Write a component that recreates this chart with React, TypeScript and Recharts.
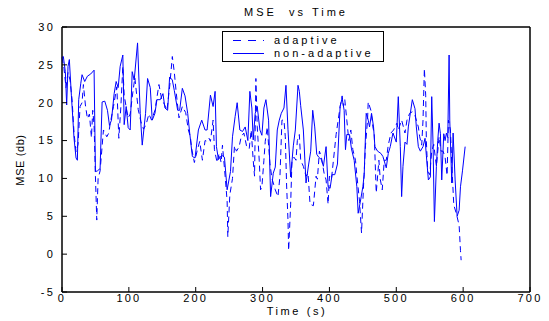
import { LineChart, Line, XAxis, YAxis, ReferenceLine } from "recharts";

// values
const adaptiveTime = [
  0, 3, 6, 9, 12, 15, 18, 21, 24, 27, 30, 32, 35, 38, 41, 44, 46, 48, 50, 52, 54, 57,
  62, 67, 70, 72, 77, 82, 85, 88, 91, 93, 96, 99, 102, 106, 109, 114, 118, 122, 126,
  130, 134, 139, 145, 149, 153, 157, 161, 165, 168, 171, 175, 180, 185, 189, 192, 194,
  198, 202, 206, 210, 214, 217, 220, 222, 226, 228, 232, 235, 238, 240, 244, 247, 248,
  251, 255, 258, 261, 265, 268, 272, 276, 280, 283, 286, 288, 290, 292, 295, 297, 299,
  302, 304, 307, 311, 314, 319, 323, 326, 329, 332, 334, 336, 338, 339, 342, 344, 347,
  350, 352, 355, 357, 361, 365, 368, 371, 376, 380, 382, 385, 388, 392, 395, 398, 400,
  403, 406, 410, 416, 419, 421, 423, 426, 429, 432, 435, 439, 441, 445, 448, 451, 454,
  457, 458, 462, 465, 467, 470, 474, 476, 479, 482, 485, 488, 492, 496, 501, 503, 508,
  513, 516, 520, 524, 528, 533, 535, 538, 540, 542, 544, 545, 547, 550, 553, 556, 560,
  564, 567, 570, 573, 576, 578, 581, 583, 586, 590, 594, 596, 597,
];
const adaptiveMse = [
  26.0, 24.5, 22.0, 24.0, 23.0, 20.5, 16.0, 13.5, 14.5, 19.5, 20.0, 22.4, 19.7, 17.9,
  18.5, 15.4, 19.0, 17.0, 10.3, 4.5, 10.0, 11.0, 16.4, 15.5, 16.0, 17.2, 19.5, 22.1,
  15.3, 19.4, 24.8, 21.0, 19.4, 18.0, 18.5, 21.4, 23.3, 19.1, 17.5, 16.5, 17.2, 18.5,
  17.7, 19.0, 22.4, 20.5, 19.8, 19.0, 22.1, 26.1, 24.0, 21.2, 18.0, 19.5, 18.7, 16.4,
  15.5, 13.9, 12.1, 13.6, 14.9, 12.4, 15.0, 14.9, 15.3, 14.9, 17.7, 13.8, 12.1, 13.3,
  12.1, 14.4, 10.3, 7.0, 2.3, 7.8, 10.0, 14.3, 13.6, 14.2, 15.5, 16.0, 14.3, 13.9, 16.4,
  12.4, 10.3, 23.2, 16.9, 12.4, 8.5, 8.9, 12.4, 14.9, 16.8, 12.0, 10.0, 8.5, 7.6, 10.3,
  17.7, 17.7, 15.5, 9.0, 4.5, 0.5, 6.6, 12.4, 12.8, 12.4, 15.0, 15.8, 12.4, 11.6, 10.3,
  10.7, 6.6, 6.4, 10.3, 9.9, 13.6, 12.8, 10.7, 9.8, 6.6, 10.3, 9.9, 12.4, 15.8, 19.5,
  20.9, 19.5, 20.4, 17.7, 15.0, 16.4, 13.8, 12.4, 10.4, 7.0, 2.8, 9.0, 14.4, 17.7, 20.1,
  19.0, 16.8, 15.9, 8.1, 12.4, 9.9, 8.5, 12.4, 12.4, 14.4, 16.0, 16.4, 17.3, 16.4, 17.7,
  16.0, 17.7, 18.6, 18.8, 18.3, 16.8, 15.5, 14.4, 17.7, 24.5, 21.0, 14.9, 10.9, 10.5,
  13.6, 14.5, 11.6, 15.5, 13.6, 13.6, 12.8, 10.4, 17.7, 16.4, 11.9, 6.5, 5.3, 3.8, 0.5,
  -0.8,
];

const nonAdaptiveTime = [
  0, 2, 5, 7, 9, 11, 14, 18, 21, 23, 25, 28, 30, 34, 38, 43, 48, 50, 53, 57, 60, 64, 68,
  71, 74, 78, 81, 84, 87, 91, 93, 96, 99, 102, 105, 108, 113, 117, 120, 125, 128, 132,
  135, 139, 142, 147, 151, 154, 158, 161, 165, 168, 173, 176, 180, 184, 188, 191, 195,
  199, 204, 209, 214, 217, 222, 226, 229, 231, 234, 237, 240, 243, 247, 252, 255, 259,
  262, 266, 270, 274, 278, 281, 284, 286, 289, 292, 296, 299, 302, 305, 309, 312, 316,
  319, 322, 325, 328, 332, 335, 338, 342, 346, 349, 353, 355, 357, 361, 365, 369, 372,
  375, 378, 381, 384, 388, 391, 395, 398, 401, 404, 408, 412, 416, 419, 422, 424, 426,
  430, 433, 437, 441, 443, 446, 450, 452, 455, 458, 460, 463, 466, 468, 472, 477, 480,
  485, 488, 491, 495, 500, 503, 506, 508, 510, 513, 516, 518, 521, 524, 528, 530, 533,
  536, 540, 543, 545, 548, 551, 553, 555, 557, 560, 562, 564, 566, 568, 571, 573, 575,
  577, 579, 580, 583, 585, 588, 591, 594, 596, 599, 603,
];
const nonAdaptiveMse = [
  26.0, 26.1, 24.1, 19.7, 24.8, 25.7, 21.0, 15.3, 12.7, 12.4, 20.4, 22.5, 23.7, 22.8,
  23.5, 23.8, 24.3, 10.9, 11.0, 11.3, 20.1, 20.2, 19.0, 17.0, 17.7, 21.2, 22.8, 22.0,
  24.8, 26.3, 17.1, 19.5, 16.7, 16.4, 24.1, 23.0, 27.9, 18.6, 14.4, 18.6, 23.2, 22.0,
  17.7, 18.6, 20.4, 20.4, 21.2, 19.3, 19.0, 23.4, 23.0, 21.6, 19.0, 19.0, 21.9, 20.9,
  18.6, 16.0, 12.9, 12.7, 16.4, 17.7, 16.4, 16.4, 21.0, 19.5, 21.5, 14.2, 12.5, 12.9,
  13.0, 12.8, 8.5, 10.9, 15.5, 18.2, 20.0, 16.4, 16.2, 16.8, 15.0, 21.5, 19.3, 15.1,
  18.6, 19.5, 16.4, 15.7, 19.3, 20.4, 17.7, 7.6, 10.7, 11.5, 16.4, 17.7, 18.6, 19.3,
  22.3, 16.5, 10.2, 14.3, 16.4, 22.3, 21.5, 19.6, 16.4, 9.4, 11.9, 13.6, 19.0, 16.8,
  13.2, 12.8, 12.5, 11.6, 14.2, 8.9, 8.7, 10.5, 10.5, 11.9, 19.5, 20.6, 19.0, 13.8,
  15.8, 15.8, 13.9, 12.4, 8.9, 5.4, 6.8, 8.9, 10.5, 18.6, 17.7, 16.8, 18.6, 16.8, 14.2,
  13.6, 13.3, 12.9, 11.4, 13.3, 14.2, 16.0, 14.8, 20.8, 14.2, 7.6, 11.6, 14.8, 14.5,
  16.8, 18.6, 20.4, 19.2, 16.8, 14.2, 13.6, 14.2, 15.3, 13.0, 9.8, 10.2, 20.8, 14.5, 4.3,
  11.6, 15.0, 17.3, 15.9, 9.8, 15.9, 15.0, 16.0, 15.4, 26.3, 17.7, 9.4, 16.0, 9.8, 5.0,
  5.8, 8.9, 11.0, 14.2,
];

const xTicks = [0, 100, 200, 300, 400, 500, 600, 700];
const yTicks = [-5, 0, 5, 10, 15, 20, 25, 30];

const adaptiveData = adaptiveTime.map((t, i) => ({ t, mse: adaptiveMse[i] }));
const nonAdaptiveData = nonAdaptiveTime.map((t, i) => ({ t, mse: nonAdaptiveMse[i] }));

const FONT = "'Liberation Sans', Arial, sans-serif";
const BLUE = "#0000ff";
const tickStyle = { fontSize: 11, fill: "#000", fontFamily: FONT, letterSpacing: 2.2 };

export default function App() {
  return (
    <div
      style={{
        position: "absolute",
        left: 0,
        top: 0,
        width: 549,
        height: 321,
        background: "#fff",
        fontFamily: FONT,
      }}
    >
      <LineChart
        width={549}
        height={321}
        margin={{ top: 26, right: 18, bottom: 0, left: 0 }}
      >
        <XAxis
          dataKey="t"
          type="number"
          domain={[0, 700]}
          ticks={xTicks}
          height={29}
          tickSize={-5}
          tickMargin={7}
          tick={tickStyle}
          stroke="black"
          interval={0}
        />
        <XAxis
          xAxisId="top"
          orientation="top"
          dataKey="t"
          type="number"
          domain={[0, 700]}
          ticks={xTicks}
          height={1}
          tickSize={-5}
          tick={false}
          stroke="black"
          interval={0}
        />
        <YAxis
          type="number"
          domain={[-5, 30]}
          ticks={yTicks}
          width={62}
          tickSize={-5}
          tickMargin={12}
          tick={tickStyle}
          stroke="black"
          interval={0}
        />
        <YAxis
          yAxisId="right"
          orientation="right"
          type="number"
          domain={[-5, 30]}
          ticks={yTicks}
          width={1}
          tickSize={-5}
          tick={false}
          stroke="black"
          interval={0}
        />
        {/* plot frame, drawn again in case an axis line is skipped */}
        <ReferenceLine y={30} stroke="black" strokeWidth={1} ifOverflow="visible" />
        <ReferenceLine y={-5} stroke="black" strokeWidth={1} ifOverflow="visible" />
        <ReferenceLine x={0} stroke="black" strokeWidth={1} ifOverflow="visible" />
        <ReferenceLine x={700} stroke="black" strokeWidth={1} ifOverflow="visible" />
        <Line
          data={nonAdaptiveData}
          dataKey="mse"
          stroke={BLUE}
          strokeWidth={1}
          dot={false}
          isAnimationActive={false}
        />
        <Line
          data={adaptiveData}
          dataKey="mse"
          xAxisId="top"
          yAxisId="right"
          stroke={BLUE}
          strokeWidth={1}
          strokeDasharray="6 4"
          dot={false}
          isAnimationActive={false}
        />
      </LineChart>

      <div
        style={{
          position: "absolute",
          left: 0,
          width: 592,
          top: 6,
          textAlign: "center",
          fontSize: 11,
          letterSpacing: 3,
          whiteSpace: "pre",
        }}
      >
        MSE  vs Time
      </div>

      <div
        style={{
          position: "absolute",
          left: 0,
          width: 594,
          top: 305,
          textAlign: "center",
          fontSize: 11,
          letterSpacing: 2.6,
        }}
      >
        Time (s)
      </div>

      <div
        style={{
          position: "absolute",
          left: 20,
          top: 160,
          transform: "translate(-50%, -50%) rotate(-90deg)",
          fontSize: 11,
          letterSpacing: 0.6,
          whiteSpace: "nowrap",
        }}
      >
        MSE (db)
      </div>

      <div
        style={{
          position: "absolute",
          left: 222,
          top: 31,
          width: 162,
          height: 31,
          border: "1px solid #000",
          background: "#fff",
          boxSizing: "border-box",
          fontSize: 11,
          letterSpacing: 3,
        }}
      >
        {[
          { name: "adaptive", dash: "8 7" },
          { name: "non-adaptive", dash: undefined },
        ].map((item, i) => (
          <div
            key={item.name}
            style={{ position: "absolute", left: 0, top: 2 + i * 12.5, height: 13, width: 160 }}
          >
            <svg width={40} height={13} style={{ position: "absolute", left: 10, top: 0 }}>
              <line
                x1={0}
                x2={31}
                y1={6.5}
                y2={6.5}
                stroke={BLUE}
                strokeWidth={1}
                strokeDasharray={item.dash}
              />
            </svg>
            <span style={{ position: "absolute", left: 51, top: -1, lineHeight: "14px" }}>
              {item.name}
            </span>
          </div>
        ))}
      </div>
    </div>
  );
}
